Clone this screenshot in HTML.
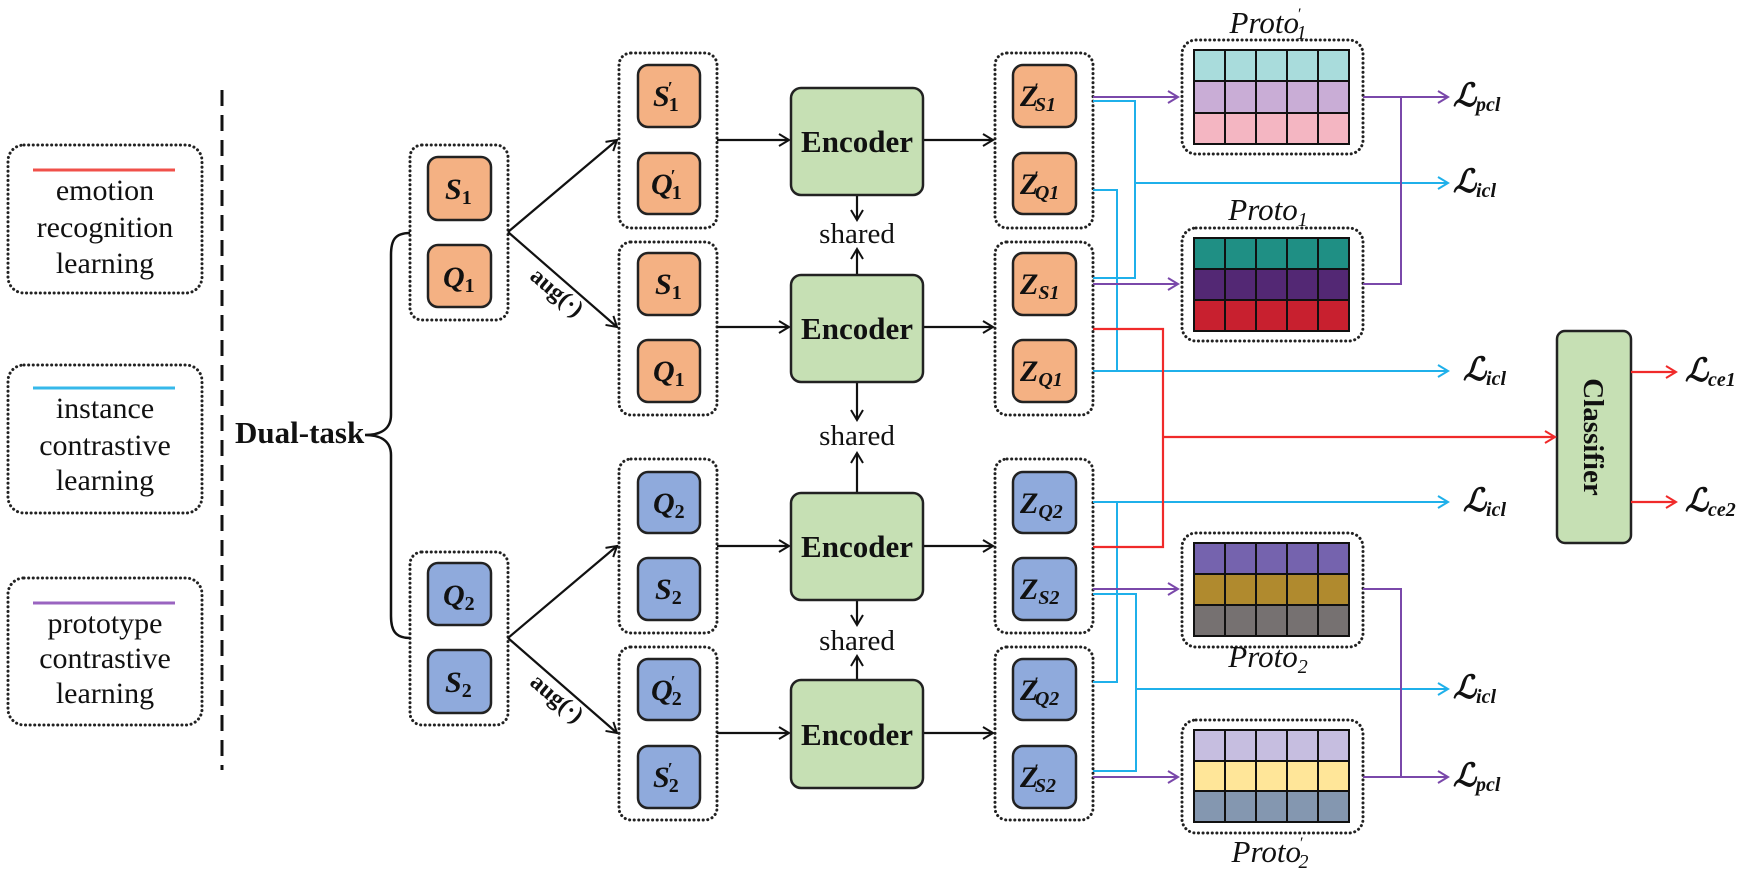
<!DOCTYPE html>
<html><head><meta charset="utf-8"><style>
html,body{margin:0;padding:0;background:#fff;}
svg{display:block;}
.t{font-family:"Liberation Serif",serif;}
.m{font-family:"Liberation Serif","DejaVu Serif",serif;font-weight:bold;font-style:italic;}
</style></head><body>
<svg width="1750" height="873" viewBox="0 0 1750 873" xmlns="http://www.w3.org/2000/svg">
<defs>
<marker id="ak" markerWidth="14" markerHeight="14" refX="11" refY="7" orient="auto" markerUnits="userSpaceOnUse"><path d="M1,1 L11,7 L1,13" fill="none" stroke="#111" stroke-width="2"/></marker>
<marker id="ac" markerWidth="14" markerHeight="14" refX="11" refY="7" orient="auto" markerUnits="userSpaceOnUse"><path d="M1,1 L11,7 L1,13" fill="none" stroke="#1fb0ea" stroke-width="2"/></marker>
<marker id="ap" markerWidth="14" markerHeight="14" refX="11" refY="7" orient="auto" markerUnits="userSpaceOnUse"><path d="M1,1 L11,7 L1,13" fill="none" stroke="#7a48aa" stroke-width="2"/></marker>
<marker id="ar" markerWidth="14" markerHeight="14" refX="11" refY="7" orient="auto" markerUnits="userSpaceOnUse"><path d="M1,1 L11,7 L1,13" fill="none" stroke="#f02a2a" stroke-width="2"/></marker>
</defs>
<g fill="none" stroke="#222" stroke-width="3" stroke-dasharray="0.1 4.5" stroke-linecap="round">
<rect x="8" y="145" width="194" height="148" rx="16"/>
<rect x="8" y="365" width="194" height="148" rx="16"/>
<rect x="8" y="578" width="194" height="147" rx="16"/>
<rect x="410" y="145" width="98" height="175" rx="12"/>
<rect x="410" y="552" width="98" height="173" rx="12"/>
<rect x="619" y="53" width="98" height="175" rx="12"/>
<rect x="619" y="242" width="98" height="173" rx="12"/>
<rect x="619" y="459" width="98" height="174" rx="12"/>
<rect x="619" y="647" width="98" height="173" rx="12"/>
<rect x="995" y="53" width="98" height="175" rx="12"/>
<rect x="995" y="242" width="98" height="173" rx="12"/>
<rect x="995" y="459" width="98" height="174" rx="12"/>
<rect x="995" y="647" width="98" height="173" rx="12"/>
<rect x="1182" y="40" width="181" height="114" rx="14"/>
<rect x="1182" y="228" width="181" height="113" rx="14"/>
<rect x="1182" y="533" width="181" height="114" rx="14"/>
<rect x="1182" y="720" width="181" height="113" rx="14"/>
</g>
<line x1="33" y1="170" x2="175" y2="170" stroke="#f0504a" stroke-width="3"/>
<line x1="33" y1="388" x2="175" y2="388" stroke="#36b8ea" stroke-width="3"/>
<line x1="33" y1="603" x2="175" y2="603" stroke="#9a64c0" stroke-width="3"/>
<g class="t" font-size="30" text-anchor="middle" fill="#111">
<text x="105" y="200">emotion</text><text x="105" y="237">recognition</text><text x="105" y="273">learning</text>
<text x="105" y="418">instance</text><text x="105" y="455">contrastive</text><text x="105" y="490">learning</text>
<text x="105" y="633">prototype</text><text x="105" y="668">contrastive</text><text x="105" y="703">learning</text>
</g>
<line x1="222" y1="90" x2="222" y2="770" stroke="#111" stroke-width="3" stroke-dasharray="16 9"/>
<text class="t" x="235" y="443" font-size="31" font-weight="bold" fill="#111">Dual-task</text>
<path d="M410,233 C395,233 391,240 391,255 L391,415 C391,428 382,435 365,435 C382,435 391,442 391,455 L391,616 C391,630 395,638 410,638" fill="none" stroke="#111" stroke-width="2.5"/>
<g stroke="#111" stroke-width="2.2" fill="none">
<line x1="508" y1="232" x2="617" y2="140" marker-end="url(#ak)"/>
<line x1="508" y1="232" x2="617" y2="327" marker-end="url(#ak)"/>
<line x1="508" y1="638" x2="617" y2="546" marker-end="url(#ak)"/>
<line x1="508" y1="638" x2="617" y2="733" marker-end="url(#ak)"/>
<line x1="717" y1="140" x2="789" y2="140" marker-end="url(#ak)"/>
<line x1="717" y1="327" x2="789" y2="327" marker-end="url(#ak)"/>
<line x1="717" y1="546" x2="789" y2="546" marker-end="url(#ak)"/>
<line x1="717" y1="733" x2="789" y2="733" marker-end="url(#ak)"/>
<line x1="923" y1="140" x2="993" y2="140" marker-end="url(#ak)"/>
<line x1="923" y1="327" x2="993" y2="327" marker-end="url(#ak)"/>
<line x1="923" y1="546" x2="993" y2="546" marker-end="url(#ak)"/>
<line x1="923" y1="733" x2="993" y2="733" marker-end="url(#ak)"/>
<line x1="857" y1="195" x2="857" y2="220" marker-end="url(#ak)"/>
<line x1="857" y1="275" x2="857" y2="249" marker-end="url(#ak)"/>
<line x1="857" y1="382" x2="857" y2="420" marker-end="url(#ak)"/>
<line x1="857" y1="493" x2="857" y2="453" marker-end="url(#ak)"/>
<line x1="857" y1="600" x2="857" y2="625" marker-end="url(#ak)"/>
<line x1="857" y1="680" x2="857" y2="656" marker-end="url(#ak)"/>
</g>
<g class="t" font-size="30" font-weight="bold" fill="#111">
<text transform="translate(552,298) rotate(40.6)" text-anchor="middle" font-size="24">aug(·)</text>
<text transform="translate(552,704) rotate(40.6)" text-anchor="middle" font-size="24">aug(·)</text>
</g>
<g fill="#c6e0b4" stroke="#222" stroke-width="2.5">
<rect x="791" y="88" width="132" height="107" rx="10"/>
<rect x="791" y="275" width="132" height="107" rx="10"/>
<rect x="791" y="493" width="132" height="107" rx="10"/>
<rect x="791" y="680" width="132" height="108" rx="10"/>
<rect x="1557" y="331" width="74" height="212" rx="8"/>
</g>
<g class="t" font-size="31" font-weight="bold" text-anchor="middle" fill="#111">
<text x="857" y="152">Encoder</text><text x="857" y="339">Encoder</text>
<text x="857" y="557">Encoder</text><text x="857" y="745">Encoder</text>
<text transform="translate(1594,437) rotate(90)" font-size="29" dy="10">Classifier</text>
</g>
<g class="t" font-size="29" text-anchor="middle" fill="#111">
<text x="857" y="243">shared</text><text x="857" y="445">shared</text><text x="857" y="650">shared</text>
</g>
<g fill="#f4b183" stroke="#222" stroke-width="2.5">
<rect x="428" y="157" width="63" height="63" rx="10"/><rect x="428" y="245" width="63" height="62" rx="10"/>
<rect x="638" y="65" width="62" height="62" rx="10"/><rect x="638" y="153" width="62" height="61" rx="10"/>
<rect x="638" y="253" width="62" height="62" rx="10"/><rect x="638" y="340" width="62" height="62" rx="10"/>
<rect x="1013" y="65" width="63" height="62" rx="10"/><rect x="1013" y="153" width="63" height="61" rx="10"/>
<rect x="1013" y="253" width="63" height="62" rx="10"/><rect x="1013" y="340" width="63" height="62" rx="10"/>
</g>
<g fill="#8faadc" stroke="#222" stroke-width="2.5">
<rect x="428" y="563" width="63" height="62" rx="10"/><rect x="428" y="650" width="63" height="63" rx="10"/>
<rect x="638" y="472" width="62" height="61" rx="10"/><rect x="638" y="558" width="62" height="62" rx="10"/>
<rect x="638" y="659" width="62" height="61" rx="10"/><rect x="638" y="746" width="62" height="62" rx="10"/>
<rect x="1013" y="472" width="63" height="61" rx="10"/><rect x="1013" y="558" width="63" height="62" rx="10"/>
<rect x="1013" y="659" width="63" height="61" rx="10"/><rect x="1013" y="746" width="63" height="62" rx="10"/>
</g>
<g class="m" font-size="30" fill="#111">
<text x="445" y="199">S<tspan font-size="20" font-style="normal" dy="5">1</tspan></text>
<text x="443" y="287">Q<tspan font-size="20" font-style="normal" dy="5">1</tspan></text>
<text x="443" y="605">Q<tspan font-size="20" font-style="normal" dy="5">2</tspan></text>
<text x="445" y="692">S<tspan font-size="20" font-style="normal" dy="5">2</tspan></text>
<text x="653" y="106">S<tspan font-size="18" font-style="normal" dy="-12" dx="-2">′</tspan><tspan font-size="20" font-style="normal" dy="17" dx="-4">1</tspan></text>
<text x="651" y="194">Q<tspan font-size="18" font-style="normal" dy="-12" dx="-2">′</tspan><tspan font-size="20" font-style="normal" dy="17" dx="-4">1</tspan></text>
<text x="655" y="294">S<tspan font-size="20" font-style="normal" dy="5">1</tspan></text>
<text x="653" y="381">Q<tspan font-size="20" font-style="normal" dy="5">1</tspan></text>
<text x="653" y="513">Q<tspan font-size="20" font-style="normal" dy="5">2</tspan></text>
<text x="655" y="599">S<tspan font-size="20" font-style="normal" dy="5">2</tspan></text>
<text x="651" y="700">Q<tspan font-size="18" font-style="normal" dy="-12" dx="-2">′</tspan><tspan font-size="20" font-style="normal" dy="17" dx="-4">2</tspan></text>
<text x="653" y="787">S<tspan font-size="18" font-style="normal" dy="-12" dx="-2">′</tspan><tspan font-size="20" font-style="normal" dy="17" dx="-4">2</tspan></text>
<text x="1020" y="106">Z<tspan font-size="16" font-style="normal" dy="-12" dx="-4">′</tspan><tspan font-size="20" dy="17" dx="-4">S1</tspan></text>
<text x="1020" y="194">Z<tspan font-size="16" font-style="normal" dy="-12" dx="-4">′</tspan><tspan font-size="20" dy="17" dx="-4">Q1</tspan></text>
<text x="1020" y="294">Z<tspan font-size="20" dy="5">S1</tspan></text>
<text x="1020" y="381">Z<tspan font-size="20" dy="5">Q1</tspan></text>
<text x="1020" y="513">Z<tspan font-size="20" dy="5">Q2</tspan></text>
<text x="1020" y="599">Z<tspan font-size="20" dy="5">S2</tspan></text>
<text x="1020" y="700">Z<tspan font-size="16" font-style="normal" dy="-12" dx="-4">′</tspan><tspan font-size="20" dy="17" dx="-4">Q2</tspan></text>
<text x="1020" y="787">Z<tspan font-size="16" font-style="normal" dy="-12" dx="-4">′</tspan><tspan font-size="20" dy="17" dx="-4">S2</tspan></text>
</g>
<!-- prototype grids -->
<g stroke="#111" stroke-width="2">
<rect x="1194" y="50" width="155" height="31" fill="#a9dcdc"/><rect x="1194" y="81" width="155" height="32" fill="#c9add6"/><rect x="1194" y="113" width="155" height="31" fill="#f4b6c2"/>
<rect x="1194" y="238" width="155" height="31" fill="#1f8f84"/><rect x="1194" y="269" width="155" height="31" fill="#532874"/><rect x="1194" y="300" width="155" height="31" fill="#c8202f"/>
<rect x="1194" y="543" width="155" height="31" fill="#7563ae"/><rect x="1194" y="574" width="155" height="31" fill="#b08a2e"/><rect x="1194" y="605" width="155" height="31" fill="#767171"/>
<rect x="1194" y="730" width="155" height="31" fill="#c6bee0"/><rect x="1194" y="761" width="155" height="30" fill="#ffe699"/><rect x="1194" y="791" width="155" height="31" fill="#8497b0"/>
<path d="M1225,50V144M1256,50V144M1287,50V144M1318,50V144 M1225,238V331M1256,238V331M1287,238V331M1318,238V331 M1225,543V636M1256,543V636M1287,543V636M1318,543V636 M1225,730V822M1256,730V822M1287,730V822M1318,730V822"/>
</g>
<g class="t" font-size="31" font-style="italic" fill="#111" text-anchor="middle">
<text x="1268" y="33">Proto<tspan font-size="16" dy="-14" dx="-2">′</tspan><tspan font-size="20" dy="20" dx="-4">1</tspan></text>
<text x="1268" y="220">Proto<tspan font-size="20" dy="6">1</tspan></text>
<text x="1268" y="667">Proto<tspan font-size="20" dy="6">2</tspan></text>
<text x="1270" y="862">Proto<tspan font-size="16" dy="-14" dx="-2">′</tspan><tspan font-size="20" dy="20" dx="-4">2</tspan></text>
</g>
<!-- cyan -->
<g fill="none" stroke="#1fb0ea" stroke-width="2">
<polyline points="1093,101 1135,101 1135,278 1093,278"/>
<line x1="1135" y1="183" x2="1448" y2="183" marker-end="url(#ac)"/>
<polyline points="1093,190 1117,190 1117,371"/>
<line x1="1093" y1="371" x2="1448" y2="371" marker-end="url(#ac)"/>
<line x1="1093" y1="502" x2="1448" y2="502" marker-end="url(#ac)"/>
<polyline points="1117,502 1117,682 1093,682"/>
<polyline points="1093,594 1136,594 1136,771 1093,771"/>
<line x1="1136" y1="689" x2="1448" y2="689" marker-end="url(#ac)"/>
</g>
<!-- purple -->
<g fill="none" stroke="#7a48aa" stroke-width="2">
<line x1="1093" y1="97" x2="1178" y2="97" marker-end="url(#ap)"/>
<line x1="1093" y1="284" x2="1178" y2="284" marker-end="url(#ap)"/>
<line x1="1093" y1="589" x2="1178" y2="589" marker-end="url(#ap)"/>
<line x1="1093" y1="777" x2="1178" y2="777" marker-end="url(#ap)"/>
<line x1="1363" y1="97" x2="1448" y2="97" marker-end="url(#ap)"/>
<polyline points="1363,284 1401,284 1401,97"/>
<polyline points="1363,589 1401,589 1401,777"/>
<line x1="1363" y1="777" x2="1448" y2="777" marker-end="url(#ap)"/>
</g>
<!-- red -->
<g fill="none" stroke="#f02a2a" stroke-width="2.2">
<polyline points="1093,329 1163,329 1163,547 1093,547"/>
<line x1="1163" y1="437" x2="1555" y2="437" marker-end="url(#ar)"/>
<line x1="1631" y1="372" x2="1676" y2="372" marker-end="url(#ar)"/>
<line x1="1631" y1="502" x2="1676" y2="502" marker-end="url(#ar)"/>
</g>
<g class="m" font-size="32" fill="#111">
<text x="1453" y="106">ℒ<tspan font-size="20" dy="5">pcl</tspan></text>
<text x="1453" y="192">ℒ<tspan font-size="20" dy="5">icl</tspan></text>
<text x="1463" y="380">ℒ<tspan font-size="20" dy="5">icl</tspan></text>
<text x="1463" y="511">ℒ<tspan font-size="20" dy="5">icl</tspan></text>
<text x="1453" y="698">ℒ<tspan font-size="20" dy="5">icl</tspan></text>
<text x="1453" y="786">ℒ<tspan font-size="20" dy="5">pcl</tspan></text>
<text x="1685" y="381">ℒ<tspan font-size="20" dy="5">ce1</tspan></text>
<text x="1685" y="511">ℒ<tspan font-size="20" dy="5">ce2</tspan></text>
</g>
</svg>
</body></html>
